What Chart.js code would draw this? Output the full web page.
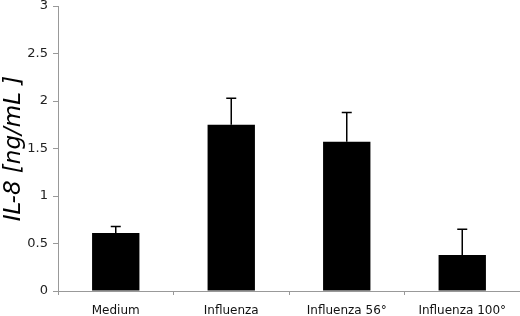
<!DOCTYPE html>
<html><head><meta charset="utf-8">
<script src="https://cdn.jsdelivr.net/npm/chart.js@4"></script>
<style>html,body{margin:0;padding:0;background:#fff}#wrap{width:520px;height:316px}</style>
</head><body><div id="wrap"><canvas id="c" width="520" height="316"></canvas></div>
<script>
const categories = ["Medium", "Influenza", "Influenza 56°", "Influenza 100°"];
const means = [0.61, 1.75, 1.57, 0.38];
const errors = [0.07, 0.28, 0.31, 0.27];
const yTicks = [0, 0.5, 1, 1.5, 2, 2.5, 3];

const errorBars = {
  id: 'errorBars',
  afterDatasetsDraw(chart) {
    const ctx = chart.ctx, meta = chart.getDatasetMeta(0), y = chart.scales.y;
    ctx.save();
    ctx.strokeStyle = '#000'; ctx.lineWidth = 1.5;
    meta.data.forEach((bar, i) => {
      const x = bar.x, y0 = y.getPixelForValue(means[i]), y1 = y.getPixelForValue(means[i] + errors[i]);
      ctx.beginPath();
      ctx.moveTo(x, y0); ctx.lineTo(x, y1);
      ctx.moveTo(x - 5, y1); ctx.lineTo(x + 5, y1);
      ctx.stroke();
    });
    ctx.restore();
  }
};

new Chart(document.getElementById('c'), {
  type: 'bar',
  data: { labels: categories, datasets: [{ data: means, backgroundColor: '#000', borderWidth: 0, barPercentage: 0.41, categoryPercentage: 1 }] },
  options: {
    responsive: false, animation: false, devicePixelRatio: 1,
    layout: { padding: { top: 0, right: 0, left: 0, bottom: 0 } },
    plugins: { legend: { display: false }, tooltip: { enabled: false } },
    scales: {
      x: {
        offset: true,
        grid: { offset: true, drawOnChartArea: false, drawTicks: true, tickLength: 4, color: '#999' },
        border: { color: '#999', width: 1 },
        ticks: { color: '#111', font: { family: 'DejaVu Sans', size: 12 }, padding: 9, maxRotation: 0 },
        afterFit(s) { s.height = 25; s.paddingLeft = 0; s.paddingRight = 0; }
      },
      y: {
        min: 0, max: 3,
        afterBuildTicks(s) { s.ticks = yTicks.map(v => ({ value: v })); },
        grid: { drawOnChartArea: false, drawTicks: true, tickLength: 5, color: '#999' },
        border: { color: '#999', width: 1 },
        ticks: { color: '#222', font: { family: 'DejaVu Sans', size: 13 }, padding: 5, callback: v => String(v) },
        title: { display: true, text: 'IL-8 [ng/mL ]', color: '#000', font: { family: 'DejaVu Sans', size: 23, style: 'italic' }, padding: { top: 0, bottom: 1 } },
        afterFit(s) { s.width = 58; s.paddingTop = 6; s.paddingBottom = 0; }
      }
    }
  },
  plugins: [errorBars]
});
</script></body></html>
